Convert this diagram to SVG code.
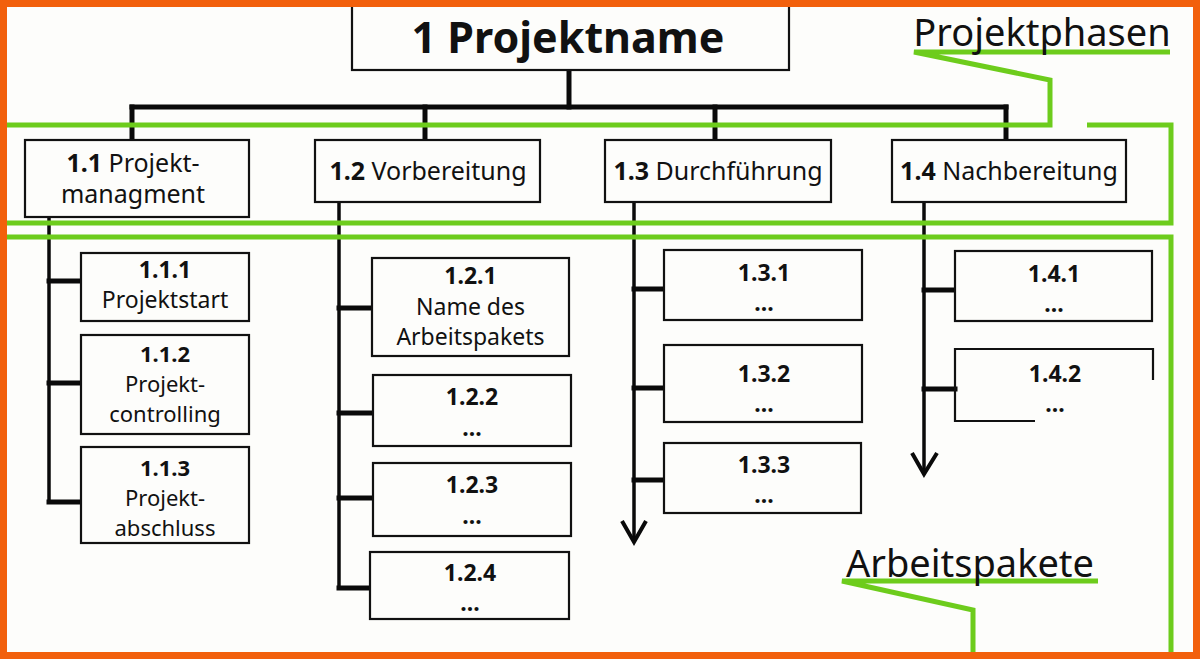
<svg xmlns="http://www.w3.org/2000/svg" width="1200" height="659" viewBox="0 0 1200 659">
<style>
.bg{fill:#fdfdfb}
.frame{fill:none;stroke:#f2600c;stroke-width:7}
.box{fill:#fdfdfb;stroke:#111;stroke-width:2.2}
.open{fill:none;stroke:#111;stroke-width:2.2}
.con{fill:none;stroke:#0a0a0a;stroke-linecap:square}
.bus{stroke-width:5}
.spine{stroke-width:3.5}
.tick{stroke-width:5}
.arrow{fill:none;stroke:#0a0a0a;stroke-width:4;stroke-linejoin:miter}
.green{fill:none;stroke:#6dcc1c;stroke-width:5;stroke-linejoin:miter}
text{font-family:"Noto Sans","Open Sans","Liberation Sans",sans-serif;fill:#111;text-anchor:middle}
.root{font-size:43px;font-weight:bold}
.l2{font-size:25px}
.l3{font-size:23px}
.l3s{font-size:22px}
.b{font-weight:bold}
.lab{font-size:38px}
</style>
<rect class="bg" x="0" y="0" width="1200" height="659"/>

<g id="connectors">
<line class="con bus" x1="569" y1="70" x2="569" y2="107"/>
<line class="con bus" x1="132" y1="107" x2="1006" y2="107"/>
<line class="con bus" x1="132" y1="107" x2="132" y2="140"/>
<line class="con bus" x1="425" y1="107" x2="425" y2="140"/>
<line class="con bus" x1="715" y1="107" x2="715" y2="140"/>
<line class="con bus" x1="1006" y1="107" x2="1006" y2="140"/>
<line class="con spine" x1="49" y1="217" x2="49" y2="502"/>
<line class="con spine" x1="339" y1="202" x2="339" y2="588"/>
<line class="con spine" x1="634" y1="202" x2="634" y2="540"/>
<line class="con spine" x1="924" y1="202" x2="924" y2="472"/>
<line class="con tick" x1="49" y1="281" x2="81" y2="281"/>
<line class="con tick" x1="49" y1="383" x2="81" y2="383"/>
<line class="con tick" x1="49" y1="502" x2="81" y2="502"/>
<line class="con tick" x1="339" y1="308" x2="372" y2="308"/>
<line class="con tick" x1="339" y1="413" x2="373" y2="413"/>
<line class="con tick" x1="339" y1="498" x2="373" y2="498"/>
<line class="con tick" x1="339" y1="588" x2="370" y2="588"/>
<line class="con tick" x1="634" y1="289" x2="664" y2="289"/>
<line class="con tick" x1="634" y1="388" x2="664" y2="388"/>
<line class="con tick" x1="634" y1="480" x2="664" y2="480"/>
<line class="con tick" x1="924" y1="290" x2="955" y2="290"/>
<line class="con tick" x1="924" y1="389" x2="955" y2="389"/>
<polyline class="arrow" points="622,521 634,542 646,521"/>
<polyline class="arrow" points="912,453 924,474 937,453"/>
</g>

<g id="root">
<rect class="box" x="352" y="-5" width="437" height="75"/>
<text class="root" x="568" y="53">1 Projektname</text>
</g>

<g id="n1-1">
<rect class="box" x="25" y="140" width="224" height="77"/>
<text class="l2" x="133" y="172"><tspan class="b">1.1</tspan> Projekt-<tspan x="133" dy="31">managment</tspan></text>
</g>
<g id="n1-2">
<rect class="box" x="315" y="140" width="225" height="62"/>
<text class="l2" x="428" y="180"><tspan class="b">1.2</tspan> Vorbereitung</text>
</g>
<g id="n1-3">
<rect class="box" x="605" y="140" width="226" height="62"/>
<text class="l2" x="718" y="180"><tspan class="b">1.3</tspan> Durchführung</text>
</g>
<g id="n1-4">
<rect class="box" x="892" y="140" width="234" height="62"/>
<text class="l2" x="1009" y="180"><tspan class="b">1.4</tspan> Nachbereitung</text>
</g>

<g id="n1-1-1">
<rect class="box" x="81" y="253" width="168" height="68"/>
<text class="l3" x="165" y="278"><tspan class="b">1.1.1</tspan><tspan x="165" dy="30">Projektstart</tspan></text>
</g>
<g id="n1-1-2">
<rect class="box" x="81" y="335" width="168" height="99"/>
<text class="l3s" x="165" y="362"><tspan class="b">1.1.2</tspan><tspan x="165" dy="30">Projekt-</tspan><tspan x="165" dy="30">controlling</tspan></text>
</g>
<g id="n1-1-3">
<rect class="box" x="81" y="447" width="168" height="96"/>
<text class="l3s" x="165" y="476"><tspan class="b">1.1.3</tspan><tspan x="165" dy="30">Projekt-</tspan><tspan x="165" dy="30">abschluss</tspan></text>
</g>

<g id="n1-2-1">
<rect class="box" x="372" y="258" width="197" height="98"/>
<text class="l3" x="470.5" y="284"><tspan class="b">1.2.1</tspan><tspan x="470.5" dy="31">Name des</tspan><tspan x="470.5" dy="30">Arbeitspakets</tspan></text>
</g>
<g id="n1-2-2">
<rect class="box" x="373" y="375" width="198" height="71"/>
<text class="l3 b" x="472" y="405">1.2.2<tspan x="472" dy="31">...</tspan></text>
</g>
<g id="n1-2-3">
<rect class="box" x="373" y="463" width="198" height="73"/>
<text class="l3 b" x="472" y="493">1.2.3<tspan x="472" dy="31">...</tspan></text>
</g>
<g id="n1-2-4">
<rect class="box" x="370" y="552" width="199" height="67"/>
<text class="l3 b" x="470" y="581">1.2.4<tspan x="470" dy="30">...</tspan></text>
</g>

<g id="n1-3-1">
<rect class="box" x="664" y="250" width="198" height="70"/>
<text class="l3 b" x="764" y="281">1.3.1<tspan x="764" dy="30">...</tspan></text>
</g>
<g id="n1-3-2">
<rect class="box" x="664" y="345" width="198" height="77"/>
<text class="l3 b" x="764" y="382">1.3.2<tspan x="764" dy="30">...</tspan></text>
</g>
<g id="n1-3-3">
<rect class="box" x="664" y="443" width="197" height="70"/>
<text class="l3 b" x="764" y="473">1.3.3<tspan x="764" dy="30">...</tspan></text>
</g>

<g id="n1-4-1">
<rect class="box" x="955" y="251" width="197" height="70"/>
<text class="l3 b" x="1054" y="282">1.4.1<tspan x="1054" dy="30">...</tspan></text>
</g>
<g id="n1-4-2">
<path class="open" d="M1153,380 V349 H955 V421 H1035"/>
<text class="l3 b" x="1055" y="382">1.4.2<tspan x="1055" dy="30">...</tspan></text>
</g>

<g id="annotations">
<path class="green" d="M6,125 H1050 V80 L914,52 H1170"/>
<path class="green" d="M1087,125 H1171 V223 H6"/>
<path class="green" d="M6,237 H1171 V655"/>
<path class="green" d="M973,655 V610 L842,581 H1098"/>
<text class="lab" x="1042" y="46">Projektphasen</text>
<text class="lab" x="970" y="577">Arbeitspakete</text>
</g>

<rect class="frame" x="3.5" y="3.5" width="1193" height="652"/>
</svg>
